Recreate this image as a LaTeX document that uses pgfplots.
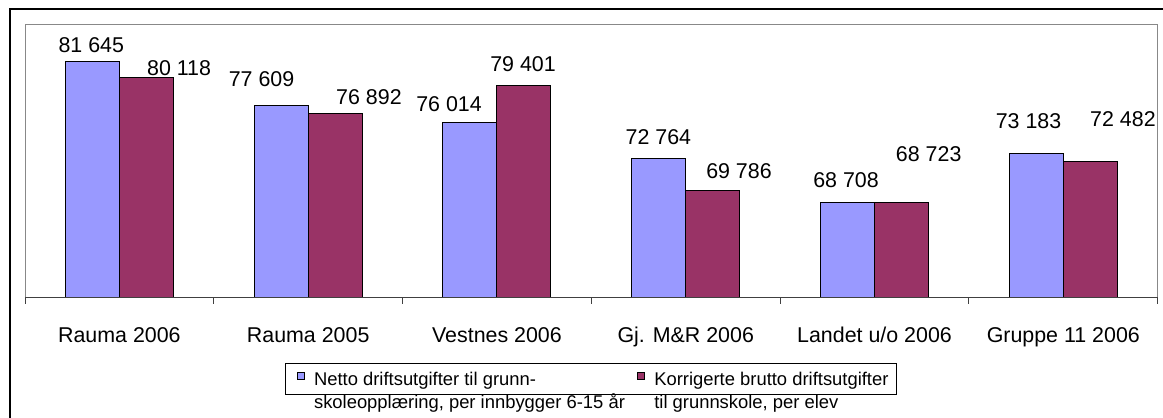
\documentclass[border=0pt]{standalone}
\usepackage{fontspec}
\setmainfont{Liberation Sans}
\usepackage{pgfplots}
\usepackage{pgfplotstable}
\pgfplotsset{compat=1.18}

\definecolor{netto}{HTML}{9999FF}
\definecolor{brutto}{HTML}{993366}
\definecolor{boxgray}{HTML}{888888}

\newcommand\lblfont{\fontsize{10.7}{12.8}\selectfont}
\newcommand\legfont{\fontsize{9.2}{11.5}\selectfont}

% kroner per innbygger / per elev
\pgfplotstableread{
x netto brutto
0 81645 80118
1 77609 76892
2 76014 79401
3 72764 69786
4 68708 68723
5 73183 72482
}\utgifter

\begin{document}
\begin{tikzpicture}[x=0.5pt,y=0.5pt, lbl/.style={font=\lblfont, inner sep=0pt}]
\path[use as bounding box] (0,0) rectangle (1163,418);
\begin{scope}
\clip (0,0) rectangle (1163,418);
\draw[black, line width=0.6pt] (10,409) rectangle (1190,-30);
\begin{axis}[
    at={(12.5pt,60.15pt)}, anchor=south west,
    scale only axis,
    width=566.35pt, height=136.6pt,
    ybar=0pt, bar width=27pt,
    xmin=-0.5, xmax=5.5,
    ymin=60000, ymax=85000,
    clip mode=individual,
    axis line style={boxgray, line width=0.5pt},
    ytick=\empty,
    xtick={0,...,5},
    xticklabels={Rauma 2006, Rauma 2005, Vestnes 2006, Gj. M\&R 2006, Landet u/o 2006, Gruppe 11 2006},
    major tick length=0pt,
    minor xtick={-0.5,0.5,...,5.5},
    minor tick length=3pt,
    tick align=outside,
    xtick pos=bottom,
    minor tick style={black!75, line width=0.5pt},
    xticklabel style={font=\lblfont, anchor=base, yshift=-22.3pt},
    legend columns=2,
    legend cell align=left,
    legend style={
        at={(0.2295,-0.239)}, anchor=north west,
        draw=black, line width=0.5pt,
        font=\legfont,
        inner xsep=4pt, inner ysep=3pt,
        cells={anchor=base west},
        nodes={inner sep=0pt},
        /tikz/every odd column/.append style={column sep=4.7pt},
        /tikz/every even column/.append style={column sep=4.35pt},
    },
]
\addplot[fill=netto, draw=black, line width=0.5pt,
    legend image code/.code={\path (0pt,0pt); \draw[fill=netto, draw=black, line width=0.4pt] (1.5pt,3pt) rectangle (5.15pt,6.65pt);}]
    table[x=x, y=netto] {\utgifter};
\addlegendentry{\begin{tabular}[t]{@{}l@{}}Netto driftsutgifter til grunn-\\skoleopplæring, per innbygger 6-15 år\end{tabular}}
\addplot[fill=brutto, draw=black, line width=0.5pt,
    legend image code/.code={\path (0pt,0pt); \draw[fill=brutto, draw=black, line width=0.4pt] (1.5pt,3pt) rectangle (5.15pt,6.65pt);}]
    table[x=x, y=brutto] {\utgifter};
\addlegendentry{\begin{tabular}[t]{@{}l@{}}Korrigerte brutto driftsutgifter\\til grunnskole, per elev\end{tabular}}

\draw[black!75, line width=0.6pt] (rel axis cs:0,0) -- (rel axis cs:1,0);

\node[lbl] at (axis cs:-0.149,83076) {81 645};
\node[lbl] at (axis cs:0.316,81018) {80 118};
\node[lbl] at (axis cs:0.753,80011) {77 609};
\node[lbl] at (axis cs:1.322,78318) {76 892};
\node[lbl] at (axis cs:1.746,77724) {76 014};
\node[lbl] at (axis cs:2.138,81384) {79 401};
\node[lbl] at (axis cs:2.855,74704) {72 764};
\node[lbl] at (axis cs:3.282,71547) {69 786};
\node[lbl] at (axis cs:3.849,70724) {68 708};
\node[lbl] at (axis cs:4.287,73149) {68 723};
\node[lbl] at (axis cs:4.816,76141) {73 183};
\node[lbl] at (axis cs:5.316,76351) {72 482};
\end{axis}
\end{scope}
\end{tikzpicture}
\end{document}
